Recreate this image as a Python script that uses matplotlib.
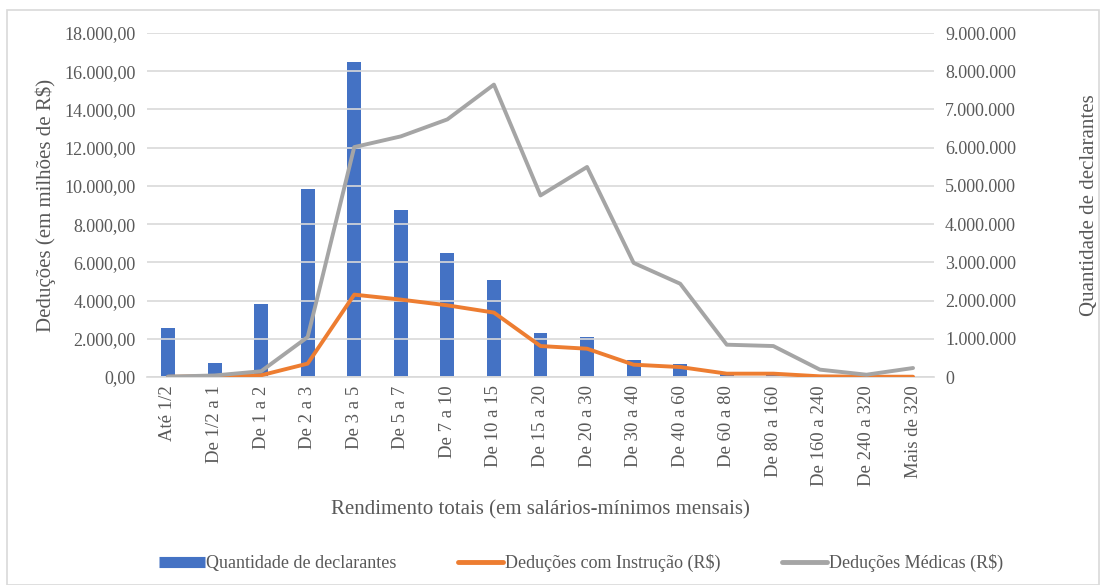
import matplotlib
matplotlib.use("Agg")
import matplotlib.pyplot as plt
from matplotlib.ticker import FuncFormatter, MultipleLocator
from matplotlib.patches import Rectangle
from matplotlib.lines import Line2D
import numpy as np

plt.rcParams['font.family'] = ['Liberation Serif', 'DejaVu Serif']

categories = ["Até 1/2", "De 1/2 a 1", "De 1 a 2", "De 2 a 3", "De 3 a 5", "De 5 a 7",
              "De 7 a 10", "De 10 a 15", "De 15 a 20", "De 20 a 30", "De 30 a 40",
              "De 40 a 60", "De 60 a 80", "De 80 a 160", "De 160 a 240", "De 240 a 320",
              "Mais de 320"]
declarantes = [1290000, 377000, 1900000, 4930000, 8250000, 4380000, 3240000, 2530000,
               1160000, 1050000, 455000, 350000, 80000, 50000, 12000, 4000, 5000]
instrucao = [10, 50, 90, 700, 4310, 4050, 3750, 3370, 1620, 1480, 645, 520, 175, 175, 35, 15, 15]
medicas = [20, 80, 300, 2090, 12030, 12590, 13480, 15300, 9500, 10990, 5970, 4880, 1690,
           1620, 385, 120, 470]

text_color = "#595959"
fig = plt.figure(figsize=(11.07, 5.85), dpi=100)
fig.patches.append(Rectangle((7/1107, 0), 1092/1107, 575/585, transform=fig.transFigure,
                             fill=False, edgecolor="#D9D9D9", linewidth=1.2))
ax = fig.add_axes([147/1107, 1 - 377/585, (934 - 147)/1107, (377 - 33)/585])
ax2 = ax.twinx()

x = np.arange(len(categories))
bars = ax2.bar(x, declarantes, width=0.3, color="#4472C4", zorder=2)
l1, = ax.plot(x, instrucao, color="#ED7D31", linewidth=2.8, solid_capstyle="round", zorder=3)
l2, = ax.plot(x, medicas, color="#A5A5A5", linewidth=2.8, solid_capstyle="round", zorder=3)
ax.set_zorder(ax2.get_zorder() + 1)
ax.patch.set_visible(False)

ax.set_xlim(-0.45, len(categories) - 0.55)
ax.set_ylim(0, 18000)
ax2.set_ylim(0, 9000000)
ax.yaxis.set_major_locator(MultipleLocator(2000))
ax2.yaxis.set_major_locator(MultipleLocator(1000000))

def fmt_left(v, p):
    s = f"{v:,.2f}"
    return s.replace(",", "X").replace(".", ",").replace("X", ".")

def fmt_right(v, p):
    return f"{int(v):,}".replace(",", ".")

ax.yaxis.set_major_formatter(FuncFormatter(fmt_left))
ax2.yaxis.set_major_formatter(FuncFormatter(fmt_right))

ax2.grid(False)
ax.grid(axis="y", color="#D9D9D9", linewidth=1.2, zorder=0)
ax.set_axisbelow(True)
for a in (ax, ax2):
    for s in a.spines.values():
        s.set_visible(False)
    a.tick_params(length=0, colors=text_color, labelsize=13)
ax.spines['bottom'].set_visible(True)
ax.spines['bottom'].set_color("#D9D9D9")
ax.spines['bottom'].set_linewidth(1.2)

ax.set_xticks(x)
ax.set_xticklabels(categories, rotation=90, fontsize=13.5, color=text_color)
ax.tick_params(axis='x', pad=6)
ax.tick_params(axis='y', pad=8)
ax2.tick_params(axis='y', pad=8)

ax.set_ylabel("Deduções (em milhões de R$)", fontsize=15, color=text_color, labelpad=6)
ax2.set_ylabel("Quantidade de declarantes", fontsize=15, color=text_color, labelpad=46)
ax.set_xlabel("Rendimento totais (em salários-mínimos mensais)", fontsize=15, color=text_color, labelpad=10)

handles = [Line2D([], [], color="#4472C4", linewidth=8, solid_capstyle="butt"),
           Line2D([], [], color="#ED7D31", linewidth=3.5, solid_capstyle="round"),
           Line2D([], [], color="#A5A5A5", linewidth=3.5, solid_capstyle="round")]
labels = ["Quantidade de declarantes", "Deduções com Instrução (R$)", "Deduções Médicas (R$)"]
fig.legend(handles=handles, labels=labels, loc="center", bbox_to_anchor=(0.525, 1 - 563/585), ncol=3,
           frameon=False, fontsize=13, labelcolor=text_color, handlelength=2.5,
           handletextpad=0.1, columnspacing=3.4)

fig.savefig("out.png", dpi=100)
